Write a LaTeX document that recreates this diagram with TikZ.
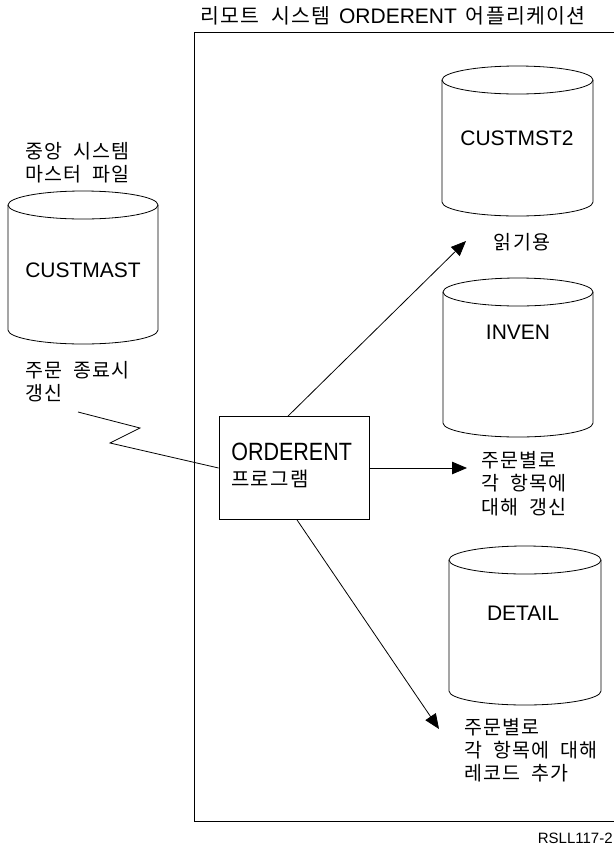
\documentclass[tikz,border=0pt]{standalone}
\usepackage{fontspec}
\setmainfont{Liberation Sans}
\newfontfamily\kr[LetterSpace=6,WordSpace=2]{Noto Sans CJK KR}
\usetikzlibrary{arrows.meta,calc}
\newcommand\dbcyl[6]{% name, cx, cytop, cybot, rx, ry
  \draw (#2,#3) ellipse [x radius=#5, y radius=#6];
  \draw (#2-#5,#3) -- (#2-#5,#4) arc [start angle=180, end angle=0, x radius=#5, y radius=#6] -- (#2+#5,#3);
  \coordinate (#1) at (#2,{(#3+#4)/2});
}
\begin{document}
\begin{tikzpicture}[x=1pt,y=-1pt,line width=0.8pt,
  lbl/.style={font=\fontsize{21}{24}\selectfont, inner sep=0pt},
  krl/.style={font=\kr\fontsize{19.5}{23.2}\selectfont, inner sep=0pt, align=left},
  arr/.style={-{Triangle[length=15pt,width=12.5pt]}},
  progbox/.style={draw, minimum width=150pt, minimum height=103pt, inner sep=0pt}]
\useasboundingbox (0,0) rectangle (614,847);

% title and frame
\node[font=\fontsize{21}{24}\selectfont, inner sep=0pt, anchor=west] (title) at (200,16)
  {{\kr\fontsize{20.5}{24}\selectfont 리모트 시스템}\hspace{9pt}ORDERENT\hspace{9pt}{\kr\fontsize{20.5}{24}\selectfont 어플리케이션}};
\draw (614,32) -- (194,32) -- (194,821) -- (614,821);
\node[font=\fontsize{15}{17}\selectfont, inner sep=0pt, anchor=east] (fig) at (613,838) {RSLL117-2};

% cylinders
\dbcyl{custmast}{83}{205}{330}{75}{14}
\dbcyl{custmst2}{517.5}{80}{202}{75.5}{14}
\dbcyl{inven}{518}{292}{423}{75}{14}
\dbcyl{detail}{525}{560}{691}{76}{14}
\node[lbl] (lcustmast) at (83,270) {CUSTMAST};
\node[lbl] (lcustmst2) at (517,138) {CUSTMST2};
\node[lbl] (linven) at (518,332) {INVEN};
\node[lbl] (ldetail) at (523,613) {DETAIL};

% left labels
\node[krl, anchor=west] (central) at (25,163) {중앙 시스템\\마스터 파일};
\node[krl, anchor=west] (upd) at (25,382) {주문 종료시\\갱신};

% program box
\node[progbox] (prog) at (294,468) {};
\node[font=\fontsize{25}{28}\selectfont, xscale=0.86, inner sep=0pt, anchor=west] (progname) at (231,452) {ORDERENT};
\node[krl, anchor=west, font=\kr\fontsize{20}{23}\selectfont] (progkr) at (231,479) {프로그램};

% zigzag communication line
\coordinate (z0) at (78,412);
\coordinate (z1) at (140,428);
\coordinate (z2) at (110,443);
\draw (z0) -- (z1) -- (z2) -- (prog.west);

% arrows
\coordinate (t1) at (466,241);
\coordinate (t2) at (467,468);
\coordinate (t3) at (439,729);
\draw[arr] ($(prog.north)+(-6,0)$) -- (t1);
\draw[arr] (prog.east) -- (t2);
\draw[arr] ($(prog.south)+(3,0)$) -- (t3);

% arrow labels
\node[krl] (read) at (522,242) {읽기용};
\node[krl, anchor=west] (invlbl) at (481,483.5) {주문별로\\각 항목에\\대해 갱신};
\node[krl, anchor=west] (detlbl) at (464,750) {주문별로\\각 항목에 대해\\레코드 추가};
\end{tikzpicture}
\end{document}
